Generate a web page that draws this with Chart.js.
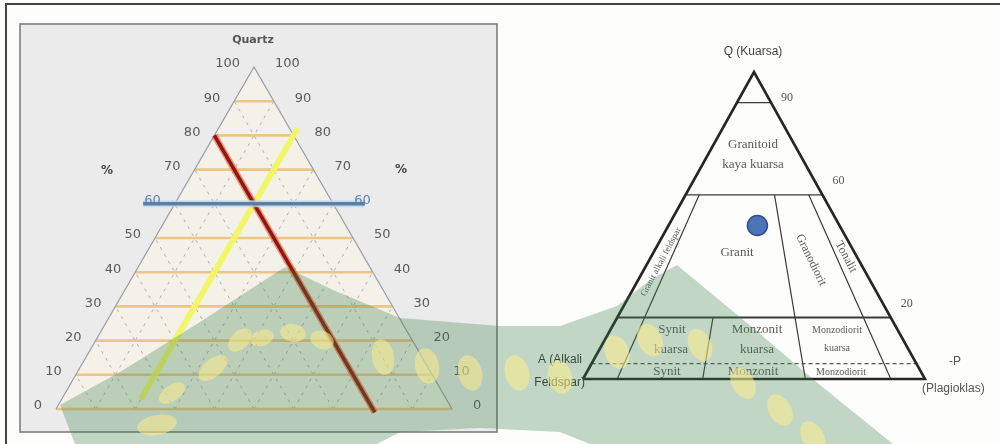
<!DOCTYPE html>
<html><head><meta charset="utf-8">
<script src="https://cdn.jsdelivr.net/npm/chart.js@4.4.0/dist/chart.umd.min.js"></script>
<style>html,body{margin:0;padding:0;background:#fdfdfb;}#wrap{width:1000px;height:444px;position:relative;overflow:hidden}</style>
</head><body><div id="wrap"><canvas id="c" width="1000" height="444"></canvas></div>
<script>
// ---------- data ----------
const ternaryTicks = [0,10,20,30,40,50,60,70,80,90,100];
const gridLevels = [0,10,20,30,40,50,60,70,80,90];
// sample composition lines on the left diagram (Q = 60, A = 20, P = 20)
const quartzLineQ = [60, 60];   const quartzLineP = [-8, 48];
const feldsparLineQ = [80, -1]; const feldsparLineA = [20, 20];
const plagLineQ = [82, 3];      const plagLineP = [20, 20];
// QAP (Streckeisen) diagram
const qapLevels = [90, 60, 20];
const qapLevelLabels = ['90', '60', '20'];
const qapDashedLevel = 5;
const qapRatios = [10, 35, 65, 90];      // P/(A+P) %
const qapRatioTopQ = [60, 20, 60, 60];
const samplePointQ = [50]; const samplePointA = [24]; const samplePointP = [26];

// ---------- geometry ----------
const TL = {x0:56, w:396, yb:409, h:342};
const TR = {x0:583, w:342, yb:379, h:307};
function tp(T, Q, P){ return {x: T.x0 + T.w*(P + Q/2)/100, y: T.yb - T.h*Q/100}; }
function tpA(T, Q, A){ return tp(T, Q, 100 - Q - A); }
function ratioPt(T, Q, r){ const rest = 100 - Q; return tp(T, Q, rest*r/100); }

const ds = [];
function seg(pts, color, width, dash){
  ds.push({data: pts, showLine: true, borderColor: color, borderWidth: width, borderDash: dash||[],
    pointRadius: 0, fill: false, clip: false, borderCapStyle: 'butt'});
}
// left grid: dashed diagonals
for (const k of gridLevels.slice(1)) {
  seg([tp(TL,0,k), tp(TL,100-k,k)], 'rgba(140,150,160,0.7)', 1, [3,5]);
  seg([tp(TL,0,100-k), tp(TL,100-k,0)], 'rgba(140,150,160,0.7)', 1, [3,5]);
}
// left grid: horizontal orange lines
for (const k of gridLevels) {
  seg([tp(TL,k,0), tp(TL,k,100-k)], 'rgba(236,190,120,0.88)', 2.6);
}
// left triangle outline
seg([tp(TL,0,0), tp(TL,100,0), tp(TL,0,100)], '#9a9ca6', 1.2);
// yellow (P = 20) line
seg([tp(TL,plagLineQ[0],plagLineP[0]), tp(TL,plagLineQ[1],plagLineP[1])], 'rgba(242,245,100,0.95)', 6);
// red (A = 20) line
seg([tpA(TL,feldsparLineQ[0],feldsparLineA[0]), tpA(TL,feldsparLineQ[1],feldsparLineA[1])], 'rgba(255,95,60,0.7)', 6.5);
seg([tpA(TL,feldsparLineQ[0],feldsparLineA[0]), tpA(TL,feldsparLineQ[1],feldsparLineA[1])], '#861a14', 3.5);
// blue (Q = 60) line
seg([tp(TL,quartzLineQ[0],quartzLineP[0]), tp(TL,quartzLineQ[1],quartzLineP[1])], 'rgba(190,215,240,0.8)', 7);
seg([tp(TL,quartzLineQ[0],quartzLineP[0]), tp(TL,quartzLineQ[1],quartzLineP[1])], '#5a7f9f', 3.5);

// right: level lines
qapLevels.forEach((q,i)=>{
  seg([tp(TR,q,0), tp(TR,q,100-q)], '#3a3a3a', i===2 ? 2 : 1.3);
});
seg([tp(TR,qapDashedLevel,0), tp(TR,qapDashedLevel,100-qapDashedLevel)], '#555', 1.2, [4,3]);
// right: ratio lines
qapRatios.forEach((r,i)=>{
  seg([ratioPt(TR,qapRatioTopQ[i],r), ratioPt(TR,0,r)], '#3a3a3a', 1.2);
});
// right outline
seg([tp(TR,0,0), tp(TR,100,0), tp(TR,0,100), tp(TR,0,0)], '#262626', 2.6);
// sample point
ds.push({data: samplePointQ.map((q,i)=>tp(TR,q,samplePointP[i])), showLine:false,
  pointRadius: 10, pointBackgroundColor:'#4d74b8', pointBorderColor:'#2f4f8c', pointBorderWidth:1.5, clip:false});

// ---------- plugins ----------
const backdrop = {
  id:'backdrop',
  beforeDatasetsDraw(chart){
    const c = chart.ctx;
    c.save();
    c.strokeStyle = '#444'; c.lineWidth = 2;
    c.beginPath(); c.moveTo(6,444); c.lineTo(6,4); c.lineTo(1000,4); c.stroke();
    c.fillStyle = '#ebebeb'; c.fillRect(20,24,477,408);
    c.strokeStyle = '#7d7d7d'; c.lineWidth = 1.6; c.strokeRect(20,24,477,408);
    const a = tp(TL,0,0), b = tp(TL,100,0), d = tp(TL,0,100);
    c.fillStyle = '#f3f1e8';
    c.beginPath(); c.moveTo(a.x,a.y); c.lineTo(b.x,b.y); c.lineTo(d.x,d.y); c.closePath(); c.fill();
    c.restore();
  },
  afterDatasetsDraw(chart){
    const c = chart.ctx;
    c.save();
    c.textBaseline = 'middle';
    c.font = '13px "DejaVu Sans"';
    for (const k of ternaryTicks) {
      const l = tp(TL,k,0), r = tp(TL,k,100-k);
      c.fillStyle = k===60 ? '#5f86ae' : '#5a5a5a';
      c.textAlign = 'right'; c.fillText(String(k), l.x-14, l.y-3);
      c.textAlign = 'left'; c.fillText(String(k), r.x+21, r.y-3);
    }
    c.fillStyle = '#555'; c.textAlign = 'center';
    c.font = 'bold 11px "DejaVu Sans"';
    c.fillText('Quartz', 253, 40);
    c.font = 'bold 12px "DejaVu Sans"'; c.fillStyle = '#444';
    c.fillText('%', 107, 171); c.fillText('%', 401, 170);

    c.fillStyle = '#444'; c.font = '12px "Liberation Sans"';
    c.fillText('Q (Kuarsa)', 753, 52);
    c.font = '12px "Liberation Serif"'; c.fillStyle = '#555';
    qapLevels.forEach((q,i)=>{
      const p = tp(TR,q,100-q); c.textAlign='left';
      c.fillText(qapLevelLabels[i], p.x+10, p.y-(i===0?5:14));
    });
    c.textAlign = 'center';
    c.font = '13px "Liberation Serif"'; c.fillStyle = '#5a5a5a';
    c.fillText('Granitoid', 753, 145); c.fillText('kaya kuarsa', 753, 165);
    c.fillText('Granit', 737, 253);
    c.fillText('Synit', 672, 330); c.fillText('kuarsa', 671, 350);
    c.fillText('Monzonit', 757, 330); c.fillText('kuarsa', 757, 350);
    c.fillText('Synit', 667, 372); c.fillText('Monzonit', 753, 372);
    c.font = '10px "Liberation Serif"';
    c.fillText('Monzodiorit', 837, 330); c.fillText('kuarsa', 837, 348);
    c.fillText('Monzodiorit', 841, 372);
    const rot = (txt, x, y, ang, font) => { c.save(); c.translate(x,y); c.rotate(ang*Math.PI/180); c.font = font; c.fillText(txt,0,0); c.restore(); };
    rot('Granit alkali feldspar', 661, 262, -62, '9px "Liberation Serif"');
    rot('Granodiorit', 811, 260, 64, '12px "Liberation Serif"');
    rot('Tonalit', 846, 257, 62, '12px "Liberation Serif"');
    c.font = '12px "Liberation Sans"'; c.fillStyle = '#333';
    c.textAlign = 'right';
    c.fillText('A (Alkali', 582, 360); c.fillText('Feldspar)', 585, 383);
    c.textAlign = 'left'; c.fillStyle = '#555';
    c.fillText('-P', 949, 362);
    c.fillText('(Plagioklas)', 922, 389);
    c.restore();
  },
  afterDraw(chart){
    const c = chart.ctx;
    c.save();
    c.fillStyle = 'rgba(60,125,72,0.30)';
    const poly = [[60,405],[120,372],[200,322],[285,267],[333,290],[400,318],[500,326],[560,326],[617,306],[650,280],[677,265],[753,328],[820,385],[893,444],[590,444],[560,432],[480,428],[400,432],[377,444],[75,444]];
    c.beginPath(); poly.forEach((p,i)=> i? c.lineTo(p[0],p[1]) : c.moveTo(p[0],p[1])); c.closePath(); c.fill();
    c.fillStyle = 'rgba(252,235,140,0.55)';
    const leaves = [[157,425,20,10,-10],[172,393,15,8,-35],[213,368,17,9,-40],[240,340,14,9,-45],[262,338,12,8,-20],[293,333,13,9,10],[322,340,12,9,20],[383,357,11,18,-10],[427,366,12,18,-10],[470,373,12,18,-15],[517,373,12,18,-15],[560,377,12,17,-15],[617,352,12,17,-20],[650,340,12,17,-25],[700,345,11,17,-25],[743,383,11,17,-30],[780,410,11,17,-30],[813,437,11,17,-30]];
    leaves.forEach(l=>{ c.beginPath(); c.ellipse(l[0],l[1],l[2],l[3],l[4]*Math.PI/180,0,Math.PI*2); c.fill(); });
    c.restore();
  }
};

new Chart(document.getElementById('c'), {
  type: 'scatter',
  data: { datasets: ds.slice().reverse() },
  options: {
    responsive: false, animation: false, events: [],
    layout: { padding: 0, autoPadding: false },
    plugins: { legend: {display:false}, tooltip: {enabled:false} },
    scales: {
      x: { type:'linear', min:0, max:1000, display:false },
      y: { type:'linear', min:0, max:444, reverse:true, display:false }
    }
  },
  plugins: [backdrop]
});
</script></body></html>
